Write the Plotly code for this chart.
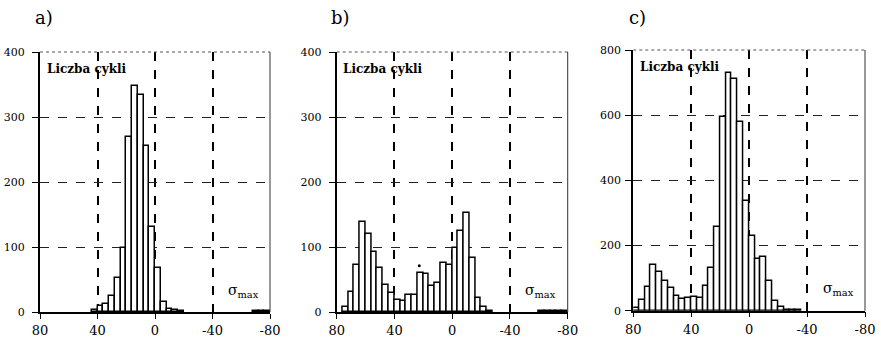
import plotly.graph_objects as go

W, H = 881, 342

# ---- data (bin centers, bin width 4) ----
centers_a = [42, 38, 34, 30, 26, 22, 18, 14, 10, 6, 2, -2, -6, -10, -14, -18, -70, -74, -78]
counts_a = [3, 10, 12, 24, 53, 99, 270, 347, 334, 255, 131, 67, 15, 5, 3, 1, 1, 1, 1]

centers_b = [74, 70, 66, 62, 58, 54, 50, 46, 42, 38, 34, 30, 26, 22, 18, 14, 10, 6, 2,
             -2, -6, -10, -14, -18, -22, -26, -62, -66, -70, -74, -78]
counts_b = [8, 31, 72, 138, 120, 92, 68, 42, 29, 19, 17, 26, 26, 60, 58, 40, 45, 75, 73,
            98, 125, 153, 83, 21, 8, 1, 1, 1, 1, 1, 1]
dot_b_x = [22.8]
dot_b_y = [71]

centers_c = [78, 74, 70, 66, 62, 58, 54, 50, 46, 42, 38, 34, 30, 26, 22, 18, 14, 10, 6, 2,
             -2, -6, -10, -14, -18, -22, -26, -30, -34]
counts_c = [7, 33, 72, 139, 119, 91, 69, 45, 36, 39, 41, 40, 76, 132, 258, 595, 730, 710, 580, 337,
            230, 158, 164, 91, 30, 10, 3, 2, 1]

x_ticks = [80, 40, 0, -40, -80]
y_ticks_ab = [0, 100, 200, 300, 400]
y_ticks_c = [0, 200, 400, 600, 800]
panel_labels = ["a)", "b)", "c)"]
y_title = "Liczba cykli"
x_title = "σ<sub>max</sub>"

SERIF = "DejaVu Serif"


def px_x(p):
    return p / W


def px_y(p):
    return 1 - p / H


# panel geometry in pixels: (left, right, top, bottom)
panels = [
    (40, 270, 52, 312),
    (336.7, 567.7, 52, 312),
    (633.3, 865, 50, 310.7),
]

fig = go.Figure()
datasets = [(centers_a, counts_a), (centers_b, counts_b), (centers_c, counts_c)]
for i, (cx, cy) in enumerate(datasets):
    n = "" if i == 0 else str(i + 1)
    fig.add_trace(go.Bar(
        x=cx, y=cy, width=4,
        marker=dict(color="white", line=dict(color="black", width=1.5)),
        xaxis="x" + n, yaxis="y" + n, showlegend=False,
    ))

fig.add_trace(go.Scatter(x=dot_b_x, y=dot_b_y, mode="markers",
                         marker=dict(color="black", size=3),
                         xaxis="x2", yaxis="y2", showlegend=False))

layout = dict(
    width=W, height=H,
    margin=dict(l=0, r=0, t=0, b=0, autoexpand=False),
    paper_bgcolor="white", plot_bgcolor="white",
    bargap=0,
    font=dict(family=SERIF, color="black", size=12),
)

shapes = []
annotations = []
for i, (l, r, t, b) in enumerate(panels):
    n = "" if i == 0 else str(i + 1)
    yt = y_ticks_c if i == 2 else y_ticks_ab
    layout["xaxis" + n] = dict(
        domain=[px_x(l), px_x(r)], anchor="y" + n, automargin=False,
        range=[80, -80], tickvals=x_ticks, ticktext=[str(v) for v in x_ticks],
        showgrid=True, gridcolor="black", gridwidth=1.5, griddash="dash",
        zeroline=False, showline=True, linecolor="black", linewidth=1.5,
        ticks="outside", ticklen=5, tickwidth=1, tickcolor="black",
        tickfont=dict(family=SERIF, size=13, color="black"),
        ticklabelstandoff=1,
    )
    layout["yaxis" + n] = dict(
        domain=[px_y(b), px_y(t)], anchor="x" + n, automargin=False,
        range=[0, yt[-1]], tickvals=yt, ticktext=[str(v) for v in yt],
        showgrid=True, gridcolor="#222", gridwidth=1, griddash="dash",
        zeroline=False, showline=True, linecolor="black", linewidth=2,
        ticks="outside", ticklen=6, tickwidth=1, tickcolor="black",
        tickfont=dict(family=SERIF, size=11, color="black"),
        ticklabelstandoff=(5 if i < 2 else 2),
    )
    shapes.append(dict(type="line", xref="x" + n + " domain", yref="y" + n + " domain",
                       x0=0, x1=1, y0=1, y1=1, line=dict(color="#555", width=1, dash="dot")))
    shapes.append(dict(type="line", xref="x" + n + " domain", yref="y" + n + " domain",
                       x0=1, x1=1, y0=0, y1=1, line=dict(color="#333", width=1)))
    annotations.append(dict(text=panel_labels[i], xref="paper", yref="paper",
                            x=px_x(l + 4), y=px_y(18), xanchor="center", yanchor="middle",
                            showarrow=False, font=dict(family=SERIF, size=18, color="black")))
    annotations.append(dict(text="<b>" + y_title + "</b>", xref="x" + n + " domain",
                            yref="y" + n + " domain", x=0.02, y=0.97,
                            xanchor="left", yanchor="top", showarrow=False,
                            font=dict(family=SERIF, size=12, color="black")))
    annotations.append(dict(text=x_title, xref="x" + n + " domain",
                            yref="y" + n + " domain", x=0.96, y=0.04,
                            xanchor="right", yanchor="bottom", showarrow=False,
                            font=dict(family=SERIF, size=14, color="black")))

layout["shapes"] = shapes
layout["annotations"] = annotations
fig.update_layout(**layout)

fig.write_html("out.html")
